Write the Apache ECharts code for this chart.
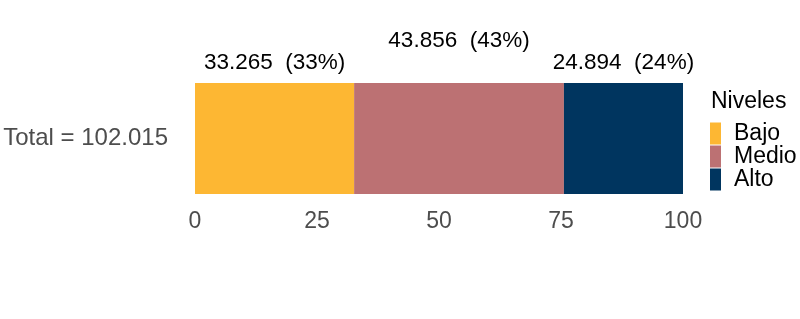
<!DOCTYPE html>
<html><head><meta charset="utf-8">
<script src="https://cdn.jsdelivr.net/npm/echarts@6/dist/echarts.min.js"></script>
<style>html,body{margin:0;padding:0;background:#fff}#c{width:800px;height:319px}</style>
</head><body><div id="c"></div>
<script>
var categories = ['Total = 102.015'];
var levels = ['Bajo', 'Medio', 'Alto'];
var counts = [33.265, 43.856, 24.894];
var pctLabels = ['33%', '43%', '24%'];
var colors = ['#FDB733', '#BC7173', '#00355F'];
var xTicks = [0, 25, 50, 75, 100];
var total = counts.reduce(function(a,b){return a+b;},0);
var labelDist = [9, 31, 9];
var FONT = '"Liberation Sans", Arial, sans-serif';
var series = levels.map(function(name, i){
  return {
    name: name, type: 'bar', stack: 's', barWidth: '100%',
    itemStyle: {color: colors[i]},
    label: {show: true, position: 'top', distance: labelDist[i], color: '#000', fontSize: 22.5, fontFamily: FONT,
      formatter: function(){ return counts[i].toFixed(3) + '  (' + pctLabels[i] + ')'; }},
    data: [counts[i] / total * 100]
  };
});
var chart = echarts.init(document.getElementById('c'));
chart.setOption({
  animation: false,
  textStyle: {fontFamily: FONT},
  grid: {left: 195, right: 117, top: 83, height: 111},
  xAxis: {type: 'value', min: xTicks[0], max: xTicks[xTicks.length-1], interval: 25,
    axisLine: {show: false}, axisTick: {show: false}, splitLine: {show: false},
    axisLabel: {color: '#4d4d4d', fontSize: 23, margin: 16, fontFamily: FONT}},
  yAxis: {type: 'category', data: categories,
    axisLine: {show: false}, axisTick: {show: false},
    axisLabel: {color: '#4d4d4d', fontSize: 24, margin: 27, fontFamily: FONT}},
  legend: {orient: 'vertical', left: 710, top: 122, itemWidth: 11, itemHeight: 22, itemGap: 0,
    icon: 'rect', data: levels, padding: 0,
    textStyle: {fontSize: 23, color: '#000', fontFamily: FONT, lineHeight: 22, padding: [0,0,0,8]}},
  graphic: [{type: 'text', left: 711, top: 90, style: {text: 'Niveles', fontSize: 23, fill: '#000', fontFamily: FONT}}],
  series: series
});
</script></body></html>
